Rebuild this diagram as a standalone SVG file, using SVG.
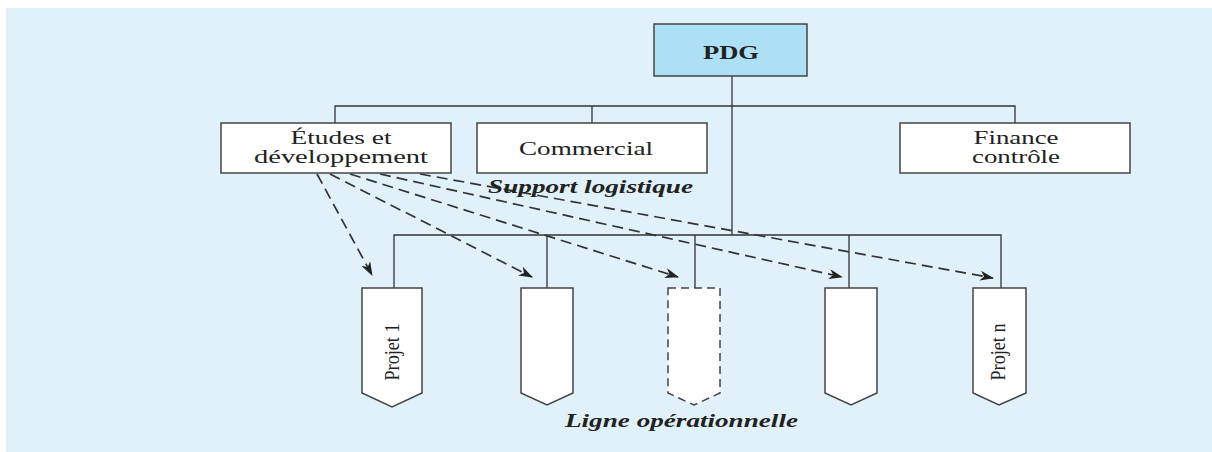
<svg xmlns="http://www.w3.org/2000/svg" width="1212" height="452" viewBox="0 0 1212 452">
<defs>
<style>
.bg{fill:#e0f1f9;}
.box{fill:#ffffff;stroke:#444;stroke-width:1.5;}
.pdg{fill:#aee0f5;stroke:#444;stroke-width:1.5;}
.ln{fill:none;stroke:#333;stroke-width:1.3;}
.dash{fill:none;stroke:#333;stroke-width:1.7;stroke-dasharray:11 6;}
.dbox{fill:#ffffff;stroke:#444;stroke-width:1.5;stroke-dasharray:8 5;}
.t{font-family:"Liberation Serif","Times New Roman",serif;font-size:18px;fill:#222;text-anchor:middle;}
.pj{font-family:"Liberation Serif","Times New Roman",serif;font-size:22px;fill:#222;text-anchor:middle;}
.lab{font-family:"Liberation Serif","Times New Roman",serif;font-size:19px;font-weight:bold;font-style:italic;fill:#222;}
</style>
<marker id="arr" viewBox="0 0 14 10" refX="13" refY="5" markerWidth="14" markerHeight="10" markerUnits="userSpaceOnUse" orient="auto">
<path d="M0,0 L14,5 L0,10 L4,5 z" fill="#222"/>
</marker>
</defs>
<rect class="bg" x="6" y="8" width="1206" height="444"/>
<g id="connectors">
<path class="ln" d="M732,76 V235"/>
<path class="ln" d="M335,123 V106 H1015 V123 M592,106 V123"/>
<path class="ln" d="M394,288 V235 H1001 V288 M547,235 V288 M695,235 V288 M849,235 V288"/>
<path class="dash" d="M317,174 L372,275" marker-end="url(#arr)"/>
<path class="dash" d="M330,174 L532,277" marker-end="url(#arr)"/>
<path class="dash" d="M350,174 L678,277" marker-end="url(#arr)"/>
<path class="dash" d="M380,174 L842,277" marker-end="url(#arr)"/>
<path class="dash" d="M420,174 L993,278" marker-end="url(#arr)"/>
</g>
<g id="pdg">
<rect class="pdg" x="654" y="24" width="153" height="52"/>
<text class="t" x="731" y="59" font-size="19" font-weight="bold" textLength="56" lengthAdjust="spacingAndGlyphs">PDG</text>
</g>
<g id="etudes">
<rect class="box" x="221" y="123" width="230" height="50"/>
<text class="t" x="341" y="144" textLength="101" lengthAdjust="spacingAndGlyphs">Études et</text>
<text class="t" x="341" y="163" textLength="174" lengthAdjust="spacingAndGlyphs">développement</text>
</g>
<g id="commercial">
<rect class="box" x="477" y="123" width="230" height="50"/>
<text class="t" x="586" y="155" font-size="19" textLength="134" lengthAdjust="spacingAndGlyphs">Commercial</text>
</g>
<g id="finance">
<rect class="box" x="900" y="123" width="230" height="50"/>
<text class="t" x="1016" y="144" textLength="85" lengthAdjust="spacingAndGlyphs">Finance</text>
<text class="t" x="1016" y="163" textLength="88" lengthAdjust="spacingAndGlyphs">contrôle</text>
</g>
<g id="support-label">
<text class="lab" x="488" y="193" textLength="205" lengthAdjust="spacingAndGlyphs">Support logistique</text>
</g>
<g id="projet1">
<path class="box" d="M362,288 H422 V393 L392,407 L362,393 Z"/>
<text class="pj" x="399" y="352" transform="rotate(-90 399 352)" textLength="57" lengthAdjust="spacingAndGlyphs">Projet 1</text>
</g>
<g id="projet2">
<path class="box" d="M521,288 H573 V393 L547,405 L521,393 Z"/>
</g>
<g id="projet3">
<path class="dbox" d="M668,288 H720 V393 L694,405 L668,393 Z"/>
</g>
<g id="projet4">
<path class="box" d="M825,288 H877 V393 L851,405 L825,393 Z"/>
</g>
<g id="projetn">
<path class="box" d="M973,288 H1026 V393 L999,405 L973,393 Z"/>
<text class="pj" x="1005" y="352" transform="rotate(-90 1005 352)" textLength="57" lengthAdjust="spacingAndGlyphs">Projet n</text>
</g>
<g id="ligne-label">
<text class="lab" x="565" y="427" font-size="18" textLength="233" lengthAdjust="spacingAndGlyphs">Ligne opérationnelle</text>
</g>
</svg>
